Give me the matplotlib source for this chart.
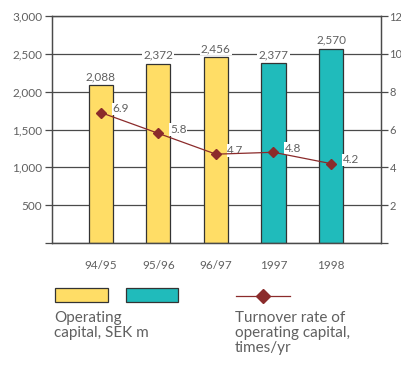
import matplotlib
matplotlib.use("Agg")
import matplotlib.pyplot as plt
from matplotlib.patches import Rectangle
from matplotlib.lines import Line2D
import numpy as np

plt.rcParams['font.family'] = ['Lato', 'DejaVu Sans']

periods = ['94/95', '95/96', '96/97', '1997', '1998']
capital = [2088, 2372, 2456, 2377, 2570]
turnover = [6.9, 5.8, 4.7, 4.8, 4.2]
bar_colors = ['#FFDD66', '#FFDD66', '#FFDD66', '#20BBBB', '#20BBBB']

txt = '#606060'
grid_c = '#4a4a4a'
line_c = '#8B2B2B'
fs = 8

fig = plt.figure(figsize=(4.02, 3.65), dpi=100)
ax = fig.add_axes([0.129, 0.334, 0.819, 0.622])
ax2 = ax.twinx()

x = np.arange(len(periods))
ax.set_axisbelow(True)
ax.yaxis.grid(True, color=grid_c, linewidth=0.9)
ax.bar(x, capital, width=0.42, color=bar_colors, edgecolor='#333333', linewidth=0.9, zorder=2)
for xi, v in zip(x, capital):
    ax.text(xi, v + 40, f'{v:,}', ha='center', va='bottom', fontsize=fs + 0.5, color=txt,
            bbox=dict(facecolor='white', edgecolor='none', pad=0.8), zorder=3)

ax.set_xlim(-0.85, 4.87)
ax.set_ylim(0, 3000)
ax.set_yticks(np.arange(0, 3001, 500))
ax.set_yticklabels([''] + [f'{v:,}' for v in range(500, 3001, 500)])
ax.set_xticks(x)
ax.set_xticklabels(periods)
ax.tick_params(axis='x', length=0, pad=12, labelsize=fs + 0.5, labelcolor=txt)
ax.tick_params(axis='y', direction='out', length=5, width=0.9, color=grid_c, labelsize=fs + 0.5, labelcolor=txt, pad=2)

ax2.plot(x, turnover, color=line_c, linewidth=0.9, marker='D', markersize=5, zorder=4)
for xi, v in zip(x, turnover):
    ax2.text(xi + 0.2, v + 0.2, f'{v}', ha='left', va='center', fontsize=fs + 0.5, color=txt,
             bbox=dict(facecolor='white', edgecolor='none', pad=0.5), zorder=3)
ax2.set_ylim(0, 12)
ax2.set_yticks(np.arange(0, 13, 2))
ax2.set_yticklabels([''] + [str(v) for v in range(2, 13, 2)])
ax2.tick_params(axis='y', direction='out', length=5, width=0.9, color=grid_c, labelsize=fs, labelcolor=txt, pad=1)

for a in (ax, ax2):
    for s in a.spines.values():
        s.set_color(grid_c)
        s.set_linewidth(0.9)

# legend drawn below the plot
fig.patches.append(Rectangle((55 / 402, 1 - 302 / 365), 53 / 402, 14 / 365, transform=fig.transFigure,
                             facecolor='#FFDD66', edgecolor='#333333', linewidth=0.9))
fig.patches.append(Rectangle((126 / 402, 1 - 302 / 365), 52 / 402, 14 / 365, transform=fig.transFigure,
                             facecolor='#20BBBB', edgecolor='#333333', linewidth=0.9))
fig.lines.append(Line2D([236 / 402, 290 / 402], [1 - 296 / 365] * 2, transform=fig.transFigure,
                        color=line_c, linewidth=0.9))
fig.lines.append(Line2D([263 / 402], [1 - 296 / 365], transform=fig.transFigure,
                        color=line_c, marker='D', markersize=7))
fig.text(54 / 402, 1 - 311 / 365, 'Operating\ncapital, SEK m', ha='left', va='top',
         fontsize=11, color=txt, linespacing=1.1)
fig.text(235 / 402, 1 - 311 / 365, 'Turnover rate of\noperating capital,\ntimes/yr', ha='left', va='top',
         fontsize=11, color=txt, linespacing=1.1)

fig.savefig('out.png', dpi=100)
